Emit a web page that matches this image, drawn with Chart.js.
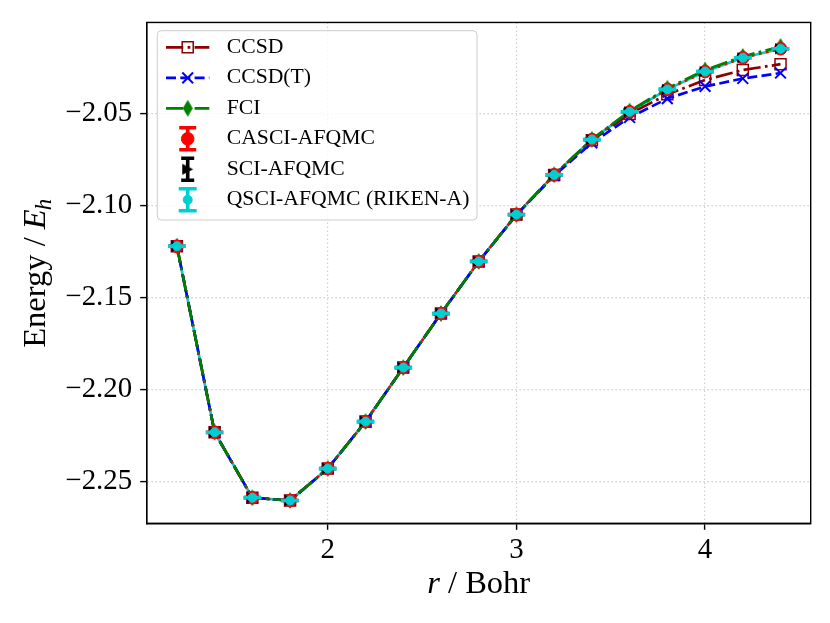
<!DOCTYPE html>
<html>
<head>
<meta charset="utf-8">
<script src="https://cdn.jsdelivr.net/npm/chart.js@4.4.0/dist/chart.umd.min.js"></script>
<style>
  html, body { margin: 0; padding: 0; background: #fff; }
  #wrap { width: 830px; height: 623px; }
</style>
</head>
<body>
<div id="wrap"><canvas id="energyChart" width="830" height="623"></canvas></div>
<script>
// bond length r (Bohr)
const rValues = [1.2, 1.4, 1.6, 1.8, 2.0, 2.2, 2.4, 2.6, 2.8, 3.0, 3.2, 3.4, 3.6, 3.8, 4.0, 4.2, 4.4];

// energies (Hartree)
const ccsd   = [-2.1222, -2.2234, -2.2590, -2.2605, -2.2431, -2.2176, -2.1882, -2.1588, -2.1305, -2.1050, -2.0835, -2.0646, -2.0503, -2.0396, -2.0318, -2.0264, -2.0232];
const ccsdT  = [-2.1222, -2.2234, -2.2590, -2.2605, -2.2431, -2.2176, -2.1882, -2.1588, -2.1306, -2.1052, -2.0838, -2.0660, -2.0522, -2.0419, -2.0353, -2.0310, -2.0280];
const fci    = [-2.1222, -2.2234, -2.2590, -2.2605, -2.2431, -2.2176, -2.1882, -2.1588, -2.1305, -2.1050, -2.0833, -2.0641, -2.0487, -2.0363, -2.0264, -2.0190, -2.0136];
const casci  = [-2.1222, -2.2234, -2.2590, -2.2605, -2.2431, -2.2176, -2.1882, -2.1588, -2.1305, -2.1050, -2.0834, -2.0642, -2.0491, -2.0369, -2.0272, -2.0197, -2.0148];
const sci    = [-2.1222, -2.2234, -2.2590, -2.2605, -2.2431, -2.2176, -2.1882, -2.1588, -2.1305, -2.1050, -2.0834, -2.0642, -2.0491, -2.0369, -2.0272, -2.0197, -2.0148];
const qsci   = [-2.1222, -2.2234, -2.2590, -2.2605, -2.2431, -2.2176, -2.1882, -2.1588, -2.1305, -2.1050, -2.0834, -2.0642, -2.0491, -2.0369, -2.0272, -2.0197, -2.0148];

// statistical errors (Hartree)
const casciErr = [0.0002, 0.0002, 0.0002, 0.0002, 0.0002, 0.0002, 0.0002, 0.0002, 0.0002, 0.0002, 0.0002, 0.0002, 0.0002, 0.0002, 0.0002, 0.0002, 0.0002];
const sciErr   = [0.0002, 0.0002, 0.0002, 0.0002, 0.0002, 0.0002, 0.0002, 0.0002, 0.0002, 0.0002, 0.0002, 0.0002, 0.0002, 0.0002, 0.0002, 0.0002, 0.0002];
const qsciErr  = [0.0002, 0.0002, 0.0002, 0.0002, 0.0002, 0.0002, 0.0002, 0.0002, 0.0002, 0.0002, 0.0002, 0.0002, 0.0002, 0.0002, 0.0002, 0.0002, 0.0002];

const seriesNames = ['CCSD', 'CCSD(T)', 'FCI', 'CASCI-AFQMC', 'SCI-AFQMC', 'QSCI-AFQMC (RIKEN-A)'];

// ticks
const xTicks = [2, 3, 4];
const yTicks = [-2.25, -2.20, -2.15, -2.10, -2.05];

const serif = '"Liberation Serif", "Times New Roman", Times, serif';

function pts(ys) {
  return rValues.map((r, i) => ({ x: r, y: ys[i] }));
}

// small marker images for shapes Chart.js lacks
function markerCanvas(w, h, color, path) {
  const c = document.createElement('canvas');
  c.width = w + 2; c.height = h + 2;
  const g = c.getContext('2d');
  g.fillStyle = color;
  g.beginPath();
  path(g, 1, 1, w, h);
  g.closePath();
  g.fill();
  return c;
}
// matplotlib 'd'
const diamondImg = markerCanvas(10, 17, '#008000', (g, x, y, w, h) => {
  g.moveTo(x + w / 2, y); g.lineTo(x + w, y + h / 2); g.lineTo(x + w / 2, y + h); g.lineTo(x, y + h / 2);
});
// matplotlib '>'
const triRightImg = markerCanvas(11, 11, '#000000', (g, x, y, w, h) => {
  g.moveTo(x, y); g.lineTo(x + w, y + h / 2); g.lineTo(x, y + h);
});

// error bars drawn right after each dataset, through the scales
const errorBars = {
  id: 'errorBars',
  afterDatasetDraw(chart, args) {
    const ds = chart.data.datasets[args.index];
    if (!ds.yErr) return;
    const xs = chart.scales.x, ys = chart.scales.y, ctx = chart.ctx;
    const a = chart.chartArea;
    ctx.save();
    ctx.beginPath(); ctx.rect(a.left, a.top, a.right - a.left, a.bottom - a.top); ctx.clip();
    ctx.strokeStyle = ds.errColor;
    ctx.lineWidth = 3;
    ds.data.forEach((p, i) => {
      const px = xs.getPixelForValue(p.x);
      const y1 = ys.getPixelForValue(p.y + ds.yErr[i]);
      const y2 = ys.getPixelForValue(p.y - ds.yErr[i]);
      ctx.beginPath();
      ctx.moveTo(px, y1); ctx.lineTo(px, y2);
      ctx.moveTo(px - ds.capHalf, y1); ctx.lineTo(px + ds.capHalf, y1);
      ctx.moveTo(px - ds.capHalf, y2); ctx.lineTo(px + ds.capHalf, y2);
      ctx.stroke();
    });
    ctx.restore();
  }
};

function drawMarker(ctx, ds, x, y) {
  ctx.save();
  ctx.setLineDash([]);
  ctx.fillStyle = ds.pointBackgroundColor;
  ctx.strokeStyle = ds.pointBorderColor;
  ctx.lineWidth = ds.pointBorderWidth;
  Chart.helpers.drawPoint(ctx, {
    pointStyle: ds.pointStyle,
    rotation: ds.pointRotation || 0,
    radius: ds.pointRadius,
    borderWidth: ds.pointBorderWidth
  }, x, y);
  ctx.restore();
}

// frame, axis titles and legend box
const decorations = {
  id: 'decorations',
  afterDatasetsDraw(chart) {
    const ctx = chart.ctx, a = chart.chartArea;
    ctx.save();
    ctx.strokeStyle = '#000';
    ctx.lineWidth = 1.4;
    ctx.strokeRect(a.left, a.top, a.right - a.left, a.bottom - a.top);
    ctx.restore();
  },
  afterDraw(chart) {
    const ctx = chart.ctx, a = chart.chartArea;
    ctx.save();
    ctx.fillStyle = '#000';
    ctx.textBaseline = 'alphabetic';
    ctx.textAlign = 'left';

    // x title: r / Bohr
    const big = 32.5;
    ctx.font = 'italic ' + big + 'px ' + serif;
    const w1 = ctx.measureText('r').width;
    ctx.font = big + 'px ' + serif;
    const w2 = ctx.measureText(' / Bohr').width;
    let x0 = (a.left + a.right) / 2 - (w1 + w2) / 2;
    ctx.font = 'italic ' + big + 'px ' + serif;
    ctx.fillText('r', x0, 593.3);
    ctx.font = big + 'px ' + serif;
    ctx.fillText(' / Bohr', x0 + w1, 593.3);

    // y title: Energy / E_h
    ctx.save();
    ctx.translate(45, (a.top + a.bottom) / 2);
    ctx.rotate(-Math.PI / 2);
    ctx.font = big + 'px ' + serif;
    const t1 = ctx.measureText('Energy / ').width;
    ctx.font = 'italic ' + big + 'px ' + serif;
    const t2 = ctx.measureText('E').width;
    ctx.font = 'italic ' + (big * 0.7) + 'px ' + serif;
    const t3 = ctx.measureText('h').width;
    let s = -(t1 + t2 + t3) / 2;
    ctx.font = big + 'px ' + serif;
    ctx.fillText('Energy / ', s, 0);
    ctx.font = 'italic ' + big + 'px ' + serif;
    ctx.fillText('E', s + t1, 0);
    ctx.font = 'italic ' + (big * 0.7) + 'px ' + serif;
    ctx.fillText('h', s + t1 + t2 - 1, 6);
    ctx.restore();

    // legend
    const lx = 157.3, ly = 30.7, lw = 319.7, lh = 189.3;
    ctx.beginPath();
    ctx.roundRect(lx, ly, lw, lh, 4);
    ctx.fillStyle = 'rgba(255,255,255,0.8)';
    ctx.fill();
    ctx.strokeStyle = '#cccccc';
    ctx.lineWidth = 1;
    ctx.stroke();

    ctx.font = '21.7px ' + serif;
    ctx.textBaseline = 'middle';
    chart.data.datasets.filter(ds => !ds.lineOnly).forEach((ds, i) => {
      const y = 47.3 + i * 30.5;
      const gx = 187.7;
      if (ds.yErr) {
        ctx.save();
        ctx.strokeStyle = ds.errColor;
        ctx.lineWidth = 3.6;
        ctx.beginPath();
        ctx.moveTo(gx, y - 11); ctx.lineTo(gx, y + 11);
        ctx.moveTo(gx - ds.capHalf, y - 11); ctx.lineTo(gx + ds.capHalf, y - 11);
        ctx.moveTo(gx - ds.capHalf, y + 11); ctx.lineTo(gx + ds.capHalf, y + 11);
        ctx.stroke();
        ctx.restore();
      } else {
        ctx.save();
        ctx.strokeStyle = ds.borderColor;
        ctx.lineWidth = ds.borderWidth;
        ctx.setLineDash(ds.borderDash || []);
        ctx.beginPath();
        ctx.moveTo(166, y); ctx.lineTo(209.3, y);
        ctx.stroke();
        ctx.restore();
      }
      drawMarker(ctx, ds, gx, y);
      ctx.fillStyle = '#000';
      ctx.fillText(ds.label, 226.7, y);
    });
    ctx.restore();
  }
};

const lw = 2.7;
// higher order = drawn earlier (further back)
const datasets = [
  {
    label: seriesNames[0], data: pts(ccsd), order: 6,
    borderColor: '#8b0000', borderWidth: lw, borderDash: [17.3, 4.3, 2.7, 4.3],
    pointStyle: 'rect', pointRadius: 7.8, pointBorderWidth: 1.5,
    pointBorderColor: '#8b0000', pointBackgroundColor: 'rgba(0,0,0,0)'
  },
  {
    label: seriesNames[1], data: pts(ccsdT), order: 5,
    borderColor: '#0000ff', borderWidth: lw, borderDash: [10, 4.3],
    pointStyle: 'crossRot', pointRadius: 7.6, pointBorderWidth: 2,
    pointBorderColor: '#0000ff', pointBackgroundColor: '#0000ff'
  },
  {
    label: seriesNames[2], data: pts(fci), order: 4,
    borderColor: '#008000', borderWidth: lw, borderDash: [17.3, 4.3, 2.7, 4.3],
    pointStyle: diamondImg, pointRadius: 8, pointBorderWidth: 0,
    pointBorderColor: '#008000', pointBackgroundColor: '#008000'
  },
  {
    label: seriesNames[3], data: pts(casci), order: 3, showLine: false,
    borderColor: '#ff0000', borderWidth: lw,
    pointStyle: 'circle', pointRadius: 6.3, pointBorderWidth: 1,
    pointBorderColor: '#ff0000', pointBackgroundColor: '#ff0000',
    yErr: casciErr, errColor: '#ff0000', capHalf: 8.5
  },
  {
    label: seriesNames[4], data: pts(sci), order: 2, showLine: false,
    borderColor: '#000000', borderWidth: lw,
    pointStyle: triRightImg, pointRadius: 7, pointBorderWidth: 0,
    pointBorderColor: '#000000', pointBackgroundColor: '#000000',
    yErr: sciErr, errColor: '#000000', capHalf: 6.5
  },
  {
    label: seriesNames[5], data: pts(qsci), order: 1, showLine: false,
    borderColor: '#00ced1', borderWidth: lw,
    pointStyle: 'circle', pointRadius: 4.5, pointBorderWidth: 1,
    pointBorderColor: '#00ced1', pointBackgroundColor: '#00ced1',
    yErr: qsciErr, errColor: '#00ced1', capHalf: 9
  },
  // connecting lines of the AFQMC curves sit underneath the reference curves
  {
    label: seriesNames[3], data: pts(casci), order: 99, lineOnly: true,
    borderColor: '#ff0000', borderWidth: lw, borderDash: [2.7, 4.5], pointRadius: 0
  },
  {
    label: seriesNames[5], data: pts(qsci), order: 100, lineOnly: true,
    borderColor: '#00ced1', borderWidth: lw, pointRadius: 0
  }
];
datasets.forEach(ds => { ds.pointHoverRadius = ds.pointRadius; });

const gridStyle = { color: '#cfcfcf', lineWidth: 1.2, tickLength: 6.5, tickColor: '#000', tickWidth: 1.4 };
const borderStyle = { color: '#000', width: 1.4, dash: [1.5, 2.5] };

new Chart(document.getElementById('energyChart').getContext('2d'), {
  type: 'line',
  data: { datasets: datasets },
  options: {
    responsive: false,
    animation: false,
    events: [],
    layout: { padding: { top: 19.5, right: 19.3, left: 0, bottom: 0 } },
    plugins: { legend: { display: false }, tooltip: { enabled: false } },
    scales: {
      x: {
        type: 'linear', min: 1.04, max: 4.56,
        afterBuildTicks: s => { s.ticks = xTicks.map(v => ({ value: v })); },
        afterFit: s => { s.height = 99.7; },
        grid: gridStyle, border: borderStyle,
        ticks: { color: '#000', font: { family: serif, size: 28.9, lineHeight: 1 }, padding: 6, maxRotation: 0,
                 callback: v => String(v) }
      },
      y: {
        type: 'linear', min: -2.2729, max: -2.0005,
        afterBuildTicks: s => { s.ticks = yTicks.map(v => ({ value: v })); },
        afterFit: s => { s.width = 146.7; },
        grid: gridStyle, border: borderStyle,
        ticks: { color: '#000', font: { family: serif, size: 28.9, lineHeight: 1 }, padding: 8,
                 callback: v => '\u2212' + Math.abs(v).toFixed(2) }
      }
    }
  },
  plugins: [errorBars, decorations]
});
</script>
</body>
</html>
